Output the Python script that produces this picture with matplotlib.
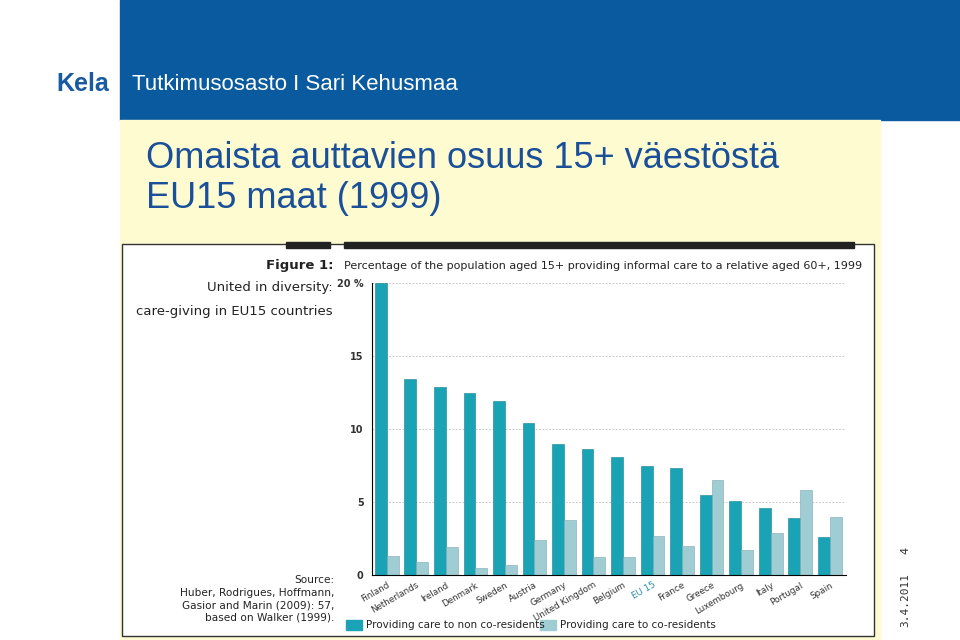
import matplotlib
matplotlib.use("Agg")
import matplotlib.pyplot as plt
import numpy as np
from matplotlib.patches import Rectangle

countries = ["Finland","Netherlands","Ireland","Denmark","Sweden","Austria","Germany",
             "United Kingdom","Belgium","EU 15","France","Greece","Luxembourg","Italy","Portugal","Spain"]
non_co = [20.0,13.4,12.9,12.5,11.9,10.4,9.0,8.6,8.1,7.5,7.3,5.5,5.1,4.6,3.9,2.6]
co_res = [1.3,0.9,1.9,0.5,0.7,2.4,3.8,1.2,1.2,2.7,2.0,6.5,1.7,2.9,5.8,4.0]
yticks = [0,5,10,15,20]
yticklabels = ["0","5","10","15","20 %"]

fig = plt.figure(figsize=(9.6,6.4), dpi=100)
W,H = 960,640
def box(x,y,w,h,**kw):
    fig.patches.append(Rectangle((x/W,1-(y+h)/H),w/W,h/H,transform=fig.transFigure,zorder=-5,**kw))
box(0,0,960,640,color="white")
box(120,0,840,120,color="#0a5aa0")
box(120,120,760,520,color="#fdfbcf")
box(122,244,752,392,facecolor="white",edgecolor="#333333",lw=1)
box(286,242,44,6,color="#222222")
box(344,242,510,6,color="#222222")
fig.text(56/W,1-84/H,"Kela",color="#1a5aa0",fontsize=18,fontweight="bold",family="Liberation Sans",va="center")
fig.text(132/W,1-84/H,"Tutkimusosasto I Sari Kehusmaa",color="white",fontsize=16,family="Liberation Sans",va="center")
fig.text(146/W,1-158/H,"Omaista auttavien osuus 15+ väestöstä",color="#1a4f9a",fontsize=26,family="Liberation Sans",va="center")
fig.text(146/W,1-198/H,"EU15 maat (1999)",color="#1a4f9a",fontsize=26,family="Liberation Sans",va="center")
fig.text(333/W,1-266/H,"Figure 1:",fontsize=9.5,fontweight="bold",ha="right",va="center",color="#222")
fig.text(333/W,1-288/H,"United in diversity:",fontsize=9.5,ha="right",va="center",color="#222")
fig.text(333/W,1-311/H,"care-giving in EU15 countries",fontsize=9.5,ha="right",va="center",color="#222")
for i,t in enumerate(["Source:","Huber, Rodrigues, Hoffmann,","Gasior and Marin (2009): 57,","based on Walker (1999)."]):
    fig.text(334/W,1-(580+i*12.5)/H,t,fontsize=7.6,ha="right",va="center",color="#222")
fig.text(344/W,1-266/H,"Percentage of the population aged 15+ providing informal care to a relative aged 60+, 1999",
         fontsize=8,va="center",color="#222")
fig.text(905/W,1-600/H,"3.4.2011",rotation=90,fontsize=8,va="center",ha="center",color="#333",family="DejaVu Sans Mono")
fig.text(905/W,1-550/H,"4",rotation=90,fontsize=8,va="center",ha="center",color="#333")

teal="#1aa3b5"; light="#9fcdd3"
ax = fig.add_axes([372/W,1-575/H,(846-372)/W,292/H])
ax.set_zorder(5)
x = np.arange(len(countries))
w=0.4
ax.bar(x-w/2,non_co,w,color=teal,edgecolor="#16808e",lw=0.4,clip_on=False)
ax.bar(x+w/2,co_res,w,color=light,edgecolor="#7aa9ae",lw=0.4,clip_on=False)
ax.set_xlim(-0.5,15.55); ax.set_ylim(0,20)
ax.set_yticks(yticks); ax.set_yticklabels(yticklabels)
ax.set_xticks(x)
ax.set_xticklabels(countries,rotation=30,ha="right",rotation_mode="anchor")
ax.tick_params(axis="y",length=0,pad=6,labelsize=7,labelcolor="#333")
ax.tick_params(axis="x",length=0,pad=4,labelsize=6.3,labelcolor="#333")
for lab in ax.get_yticklabels(): lab.set_fontweight("bold")
ax.get_xticklabels()[9].set_color("#2a8fa5")
for s in ["top","right"]: ax.spines[s].set_visible(False)
ax.grid(axis="y",ls=(0,(2,2)),color="#bbbbbb",lw=0.6)
ax.set_axisbelow(True)
ax.patch.set_alpha(0)
box(346,620,16,10,color=teal)
fig.text(366/W,1-625/H,"Providing care to non co-residents",fontsize=7.5,va="center",color="#222")
box(540,620,16,10,color=light)
fig.text(560/W,1-625/H,"Providing care to co-residents",fontsize=7.5,va="center",color="#222")
fig.savefig("out.png",dpi=100)
